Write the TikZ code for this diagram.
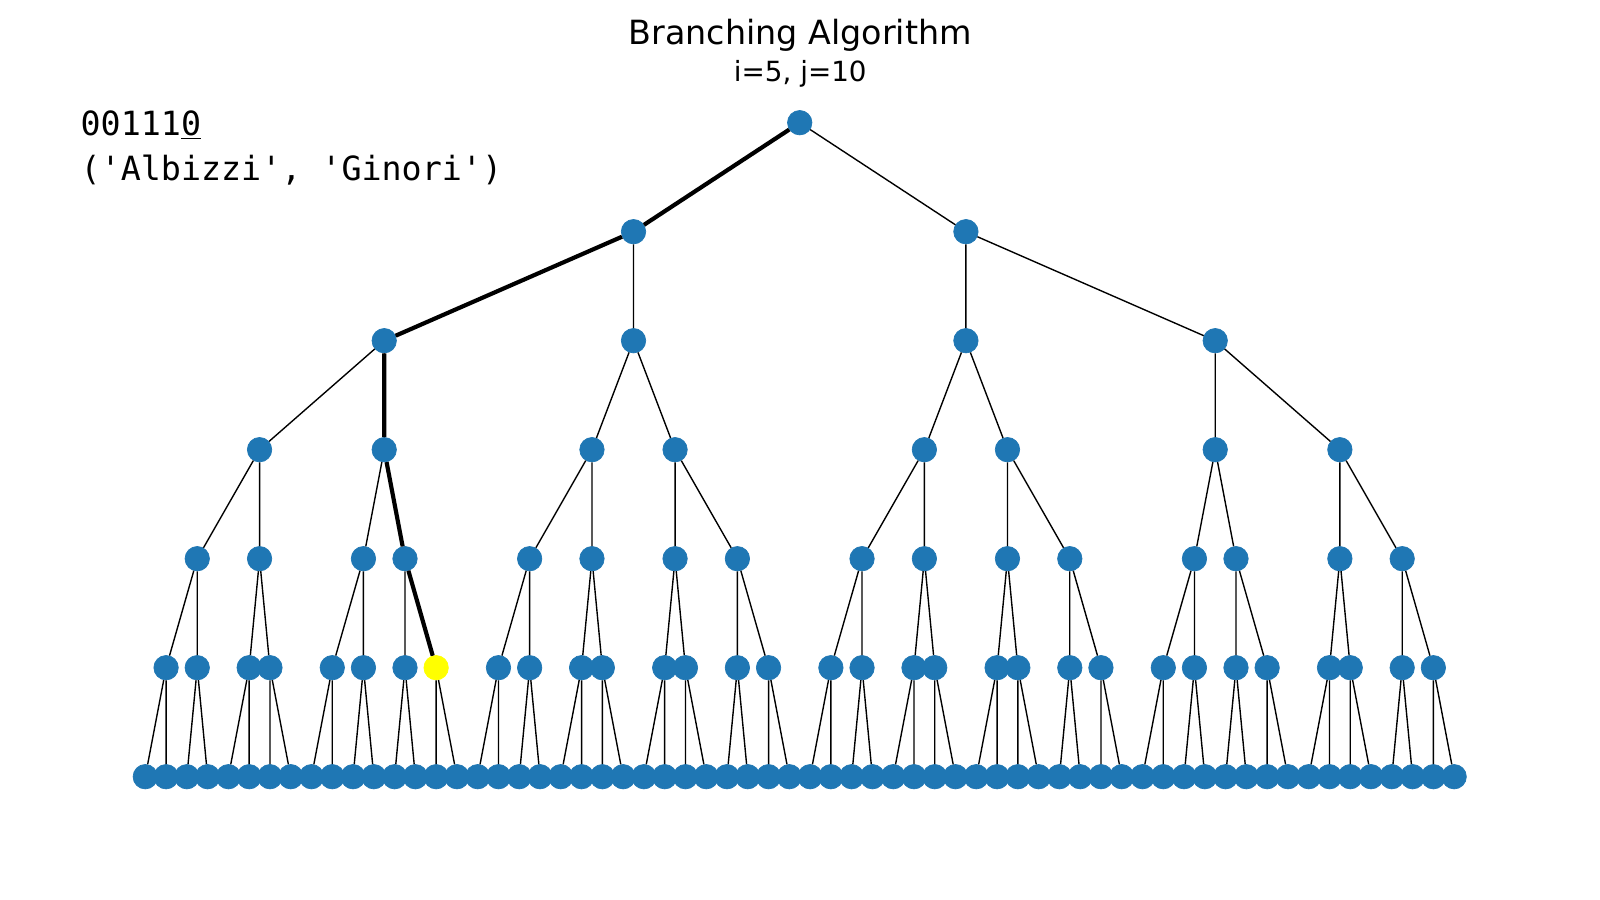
\documentclass[tikz,border=0pt]{standalone}
\usepackage{fontspec}
\setmainfont{DejaVu Sans}
\setmonofont{DejaVu Sans Mono}
\usepackage{tikz}
\definecolor{nodeblue}{HTML}{1F77B4}
\definecolor{pathyellow}{HTML}{FFFF00}

\begin{document}
\begin{tikzpicture}[
    x=0.72pt, y=-0.72pt,
    vertex/.style={circle, fill=nodeblue, draw=nodeblue, line width=0.5pt, minimum size=17.6pt, inner sep=0pt},
    edge/.style={line width=1pt},
    trail/.style={line width=3pt},
    heading/.style={inner sep=0pt, text=black}
]
    \fill[white] (0,0) rectangle (1600,900);

    % title and current state
    \node[heading, font=\fontsize{24}{29}\selectfont, anchor=base] (title) at (800.3,44.3) {Branching Algorithm};
    \node[heading, font=\fontsize{20}{24}\selectfont, anchor=base] (subtitle) at (800.3,81.7) {i=5, j=10};
    \node[heading, font=\ttfamily\fontsize{24}{29}\selectfont, anchor=base west] (bits) at (80.4,135.7) {00111\underline{0}};
    \node[heading, font=\ttfamily\fontsize{24}{29}\selectfont, anchor=base west] (pair) at (80.4,180) {('Albizzi', 'Ginori')};

    % inner levels, x given in leaf steps
    \foreach \d/\xs in {0/{31.5}, 1/{23.5,39.5}, 2/{11.5,23.5,39.5,51.5},
        3/{5.5,11.5,21.5,25.5,37.5,41.5,51.5,57.5},
        4/{2.5,5.5,10.5,12.5,18.5,21.5,25.5,28.5,34.5,37.5,41.5,44.5,50.5,52.5,57.5,60.5},
        5/{1,2.5,5,6,9,10.5,12.5,14,17,18.5,21,22,25,26,28.5,30,33,34.5,37,38,41,42,44.5,46,49,50.5,52.5,54,57,58,60.5,62}} {
        \foreach \u [count=\i from 0] in \xs {
            % node 5-7 is the current one
            \ifnum\d\i=57 \def\tone{pathyellow}\else\def\tone{nodeblue}\fi
            \node[vertex, fill=\tone, draw=\tone] (n\d-\i) at ({145.3+20.775*\u}, {122.7+109*\d}) {};
        }
    }

    % leaves
    \foreach \i in {0,...,63}
        \node[vertex] (n6-\i) at ({145.3+20.775*\i}, 776.7) {};

    % edges
    \foreach \d in {0,...,5} {
        \pgfmathtruncatemacro\e{\d+1}
        \pgfmathtruncatemacro\m{2^\d-1}
        \foreach \i in {0,...,\m} {
            \pgfmathtruncatemacro\kl{2*\i}
            \pgfmathtruncatemacro\kr{2*\i+1}
            \draw[edge] (n\d-\i) -- (n\e-\kl) (n\d-\i) -- (n\e-\kr);
        }
    }

    \draw[trail] (n0-0) -- (n1-0) -- (n2-0) -- (n3-1) -- (n4-3) -- (n5-7);
\end{tikzpicture}
\end{document}
